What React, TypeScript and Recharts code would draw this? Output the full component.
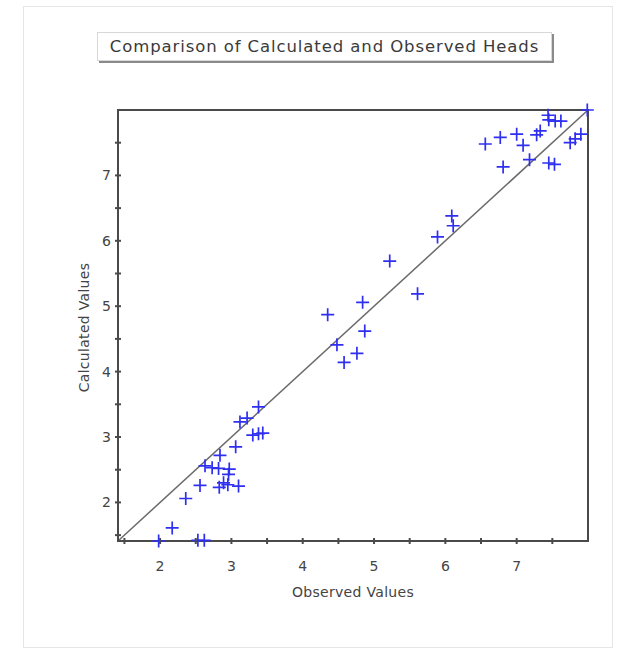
import { ScatterChart, Scatter, XAxis, YAxis, ReferenceLine, ReferenceArea, Label } from "recharts";

const observed = [
  1.98, 2.17, 2.53, 2.62, 2.36, 2.56, 2.63, 2.73, 2.84, 2.82, 2.97, 2.96, 2.83, 2.89, 2.95, 3.1, 3.06, 3.12,
  3.22, 3.38, 3.3, 3.38, 3.44,
  4.35, 4.84, 4.87, 4.48, 4.76, 4.58, 5.22, 5.61, 5.89, 6.09, 6.11,
  6.56, 6.77, 7.0, 7.09, 7.18, 6.81, 7.28, 7.33, 7.45, 7.44, 7.54, 7.62, 7.45, 7.53, 7.75, 7.82, 7.9, 7.99,
];
const calculated = [
  1.41, 1.61, 1.42, 1.42, 2.06, 2.26, 2.56, 2.53, 2.72, 2.52, 2.51, 2.43, 2.23, 2.3, 2.27, 2.25, 2.85, 3.23,
  3.29, 3.46, 3.03, 3.05, 3.06,
  4.87, 5.06, 4.62, 4.41, 4.28, 4.14, 5.69, 5.19, 6.06, 6.38, 6.23,
  7.48, 7.58, 7.63, 7.46, 7.24, 7.13, 7.62, 7.68, 7.85, 7.92, 7.83, 7.83, 7.19, 7.17, 7.5, 7.56, 7.63, 8.0,
];
const axisTicks = [1.5, 2, 2.5, 3, 3.5, 4, 4.5, 5, 5.5, 6, 6.5, 7, 7.5];
const axisMin = 1.41;
const axisMax = 8;

const points = observed.map((x, i) => ({ observed: x, calculated: calculated[i] }));

const font = "'DejaVu Sans', Verdana, sans-serif";
const frameColor = "#4a4a4a";
const textColor = "#444";

function Cross(props: any) {
  const { cx, cy } = props;
  return (
    <path
      d={`M${cx - 6.5},${cy}H${cx + 6.5}M${cx},${cy - 6.5}V${cy + 6.5}`}
      stroke="#2f2ff0"
      strokeWidth={1.7}
      fill="none"
    />
  );
}

function XTick({ x, y, payload }: any) {
  const major = Number.isInteger(payload.value);
  return (
    <g>
      <line x1={x} x2={x} y1={y - 3} y2={y + 3} stroke={frameColor} strokeWidth={2} />
      {major && (
        <text x={x} y={y + 30} textAnchor="middle" fontSize={14} fill={textColor} fontFamily={font}>
          {payload.value}
        </text>
      )}
    </g>
  );
}

function YTick({ x, y, payload }: any) {
  const major = Number.isInteger(payload.value);
  return (
    <g>
      <line x1={x - 3} x2={x + 3} y1={y} y2={y} stroke={frameColor} strokeWidth={2} />
      {major && (
        <text x={x - 7} y={y + 5} textAnchor="end" fontSize={14} fill={textColor} fontFamily={font}>
          {payload.value}
        </text>
      )}
    </g>
  );
}

export default function App() {
  return (
    <div style={{ position: "absolute", left: 0, top: 0, width: 628, height: 651, background: "#fff" }}>
      <div
        style={{
          position: "absolute",
          left: 23,
          top: 6,
          width: 590,
          height: 642,
          border: "1px solid #e6e6e6",
          boxSizing: "border-box",
        }}
      />
      <div
        style={{
          position: "absolute",
          left: 97,
          top: 32,
          width: 455,
          height: 29,
          border: "1px solid #d8d8d8",
          boxShadow: "2px 2px 0 #8a8a8a",
          boxSizing: "border-box",
          fontFamily: font,
          fontSize: 16.5,
          letterSpacing: 0.9,
          color: "#3a3a3a",
          textAlign: "center",
          lineHeight: "27px",
          whiteSpace: "nowrap",
        }}
      >
        Comparison of Calculated and Observed Heads
      </div>
      <ScatterChart width={628} height={651} margin={{ top: 110, right: 40, bottom: 50, left: 0 }}>
        <ReferenceArea
          x1={axisMin}
          x2={axisMax}
          y1={axisMin}
          y2={axisMax}
          fill="none"
          stroke={frameColor}
          strokeWidth={2}
          fillOpacity={0}
        />
        <XAxis
          dataKey="observed"
          type="number"
          domain={[axisMin, axisMax]}
          ticks={axisTicks}
          interval={0}
          tick={(p: any) => <XTick {...p} />}
          tickLine={false}
          tickSize={0}
          tickMargin={0}
          axisLine={{ stroke: frameColor, strokeWidth: 2 }}
          height={60}
        >
          <Label
            content={(p: any) => (
              <text
                x={p.viewBox.x + p.viewBox.width / 2}
                y={p.viewBox.y + 56}
                textAnchor="middle"
                fontSize={14}
                letterSpacing={0.3}
                fill={textColor}
                fontFamily={font}
              >
                Observed Values
              </text>
            )}
          />
        </XAxis>
        <YAxis
          dataKey="calculated"
          type="number"
          domain={[axisMin, axisMax]}
          ticks={axisTicks}
          interval={0}
          tick={(p: any) => <YTick {...p} />}
          tickLine={false}
          tickSize={0}
          tickMargin={0}
          axisLine={{ stroke: frameColor, strokeWidth: 2 }}
          width={118}
        >
          <Label
            content={(p: any) => {
              const cx = 84;
              const cy = p.viewBox.y + p.viewBox.height / 2 + 2;
              return (
                <text
                  x={cx}
                  y={cy}
                  transform={`rotate(-90 ${cx} ${cy})`}
                  textAnchor="middle"
                  dominantBaseline="central"
                  fontSize={14}
                  letterSpacing={0.3}
                  fill={textColor}
                  fontFamily={font}
                >
                  Calculated Values
                </text>
              );
            }}
          />
        </YAxis>
        <ReferenceLine
          segment={[
            { x: axisMin, y: axisMin },
            { x: axisMax, y: axisMax },
          ]}
          stroke="#6a6a6a"
          strokeWidth={1.5}
        />
        <Scatter data={points} shape={Cross} isAnimationActive={false} />
      </ScatterChart>
    </div>
  );
}
